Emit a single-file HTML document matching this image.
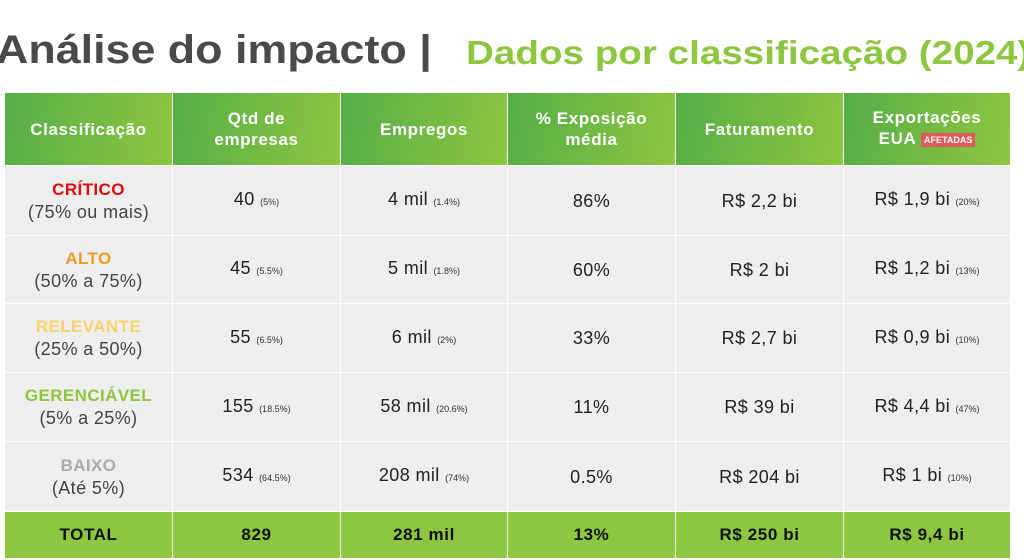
<!DOCTYPE html>
<html><head><meta charset="utf-8">
<style>
*{margin:0;padding:0;box-sizing:border-box}
body{width:1024px;height:560px;overflow:hidden;background:#fff;font-family:"Liberation Sans",sans-serif;position:relative}
#t1{position:absolute;left:-4px;top:28px;font-size:40px;font-weight:bold;color:#4a4a4a;white-space:nowrap;transform:scaleX(1.12);transform-origin:left top}
#t2{position:absolute;left:466px;top:34px;font-size:33px;font-weight:bold;color:#8dc63f;white-space:nowrap;transform:scaleX(1.17);transform-origin:left top}
.cell{position:absolute;display:flex;flex-direction:column;align-items:center;justify-content:center;text-align:center;white-space:nowrap}
.hd{background:linear-gradient(100deg,#55ad48,#8ec640);color:#fff;font-weight:bold;font-size:17px;line-height:21px;letter-spacing:0.6px}
.bd{background:#eeeeee;color:#222;font-size:18px;line-height:22px;letter-spacing:0.4px}
.tot{background:#8dc63f;color:#111;font-weight:bold;font-size:17px;letter-spacing:0.6px}
.sm{font-size:9px;color:#333;letter-spacing:0}
.badge{background:#e05a5a;color:#fff;font-size:9px;padding:2px 3px;vertical-align:middle;letter-spacing:0}
</style></head><body>
<div id="t1">Análise do impacto |</div>
<div id="t2">Dados por classificação (2024)</div>
<div id="tbl"></div>
<script>
const headers=["Classificação","Qtd de<br>empresas","Empregos","% Exposição<br>média","Faturamento","Exportações<br>EUA <span class='badge'>AFETADAS</span>"];
const classes=["CRÍTICO","ALTO","RELEVANTE","GERENCIÁVEL","BAIXO"];
const ranges=["(75% ou mais)","(50% a 75%)","(25% a 50%)","(5% a 25%)","(Até 5%)"];
const classColors=["#e00a0a","#f19a22","#f6d36e","#8dc63f","#aaaaaa"];
const companies=["40","45","55","155","534"];
const companiesPct=["(5%)","(5.5%)","(6.5%)","(18.5%)","(64.5%)"];
const jobs=["4 mil","5 mil","6 mil","58 mil","208 mil"];
const jobsPct=["(1.4%)","(1.8%)","(2%)","(20.6%)","(74%)"];
const exposure=["86%","60%","33%","11%","0.5%"];
const revenue=["R$ 2,2 bi","R$ 2 bi","R$ 2,7 bi","R$ 39 bi","R$ 204 bi"];
const exportsV=["R$ 1,9 bi","R$ 1,2 bi","R$ 0,9 bi","R$ 4,4 bi","R$ 1 bi"];
const exportsPct=["(20%)","(13%)","(10%)","(47%)","(10%)"];
const totals=["TOTAL","829","281 mil","13%","R$ 250 bi","R$ 9,4 bi"];

const tbl=document.getElementById('tbl');
const colX=[5,172,340,507,675,843,1010];
const rowY=[93,165,235,303,372,441,511,558];
function cell(c,r,cls,html,name){
  const d=document.createElement('div');
  d.className='cell '+cls;
  d.style.left=(colX[c]+(c?1:0))+'px';
  d.style.top=(rowY[r]+(r?1:0))+'px';
  d.style.width=(colX[c+1]-colX[c]-(c?1:0))+'px';
  d.style.height=(rowY[r+1]-rowY[r]-(r?1:0))+'px';
  d.innerHTML='<div>'+html+'</div>';
  
  
  tbl.appendChild(d);
}
headers.forEach((h,c)=>cell(c,0,'hd',h,'header-cell'));
classes.forEach((k,i)=>{
  const r=i+1;
  cell(0,r,'bd',`<div style="color:${classColors[i]};font-weight:bold;font-size:17px">${k}</div><div style="color:#444">${ranges[i]}</div>`,'class-cell');
  cell(1,r,'bd',`${companies[i]} <span class="sm">${companiesPct[i]}</span>`,'companies-cell');
  cell(2,r,'bd',`${jobs[i]} <span class="sm">${jobsPct[i]}</span>`,'jobs-cell');
  cell(3,r,'bd',`${exposure[i]}`,'exposure-cell');
  cell(4,r,'bd',`${revenue[i]}`,'revenue-cell');
  cell(5,r,'bd',`${exportsV[i]} <span class="sm">${exportsPct[i]}</span>`,'exports-cell');
});
totals.forEach((t,c)=>cell(c,6,'tot',t,'total-cell'));
</script>
</body></html>
